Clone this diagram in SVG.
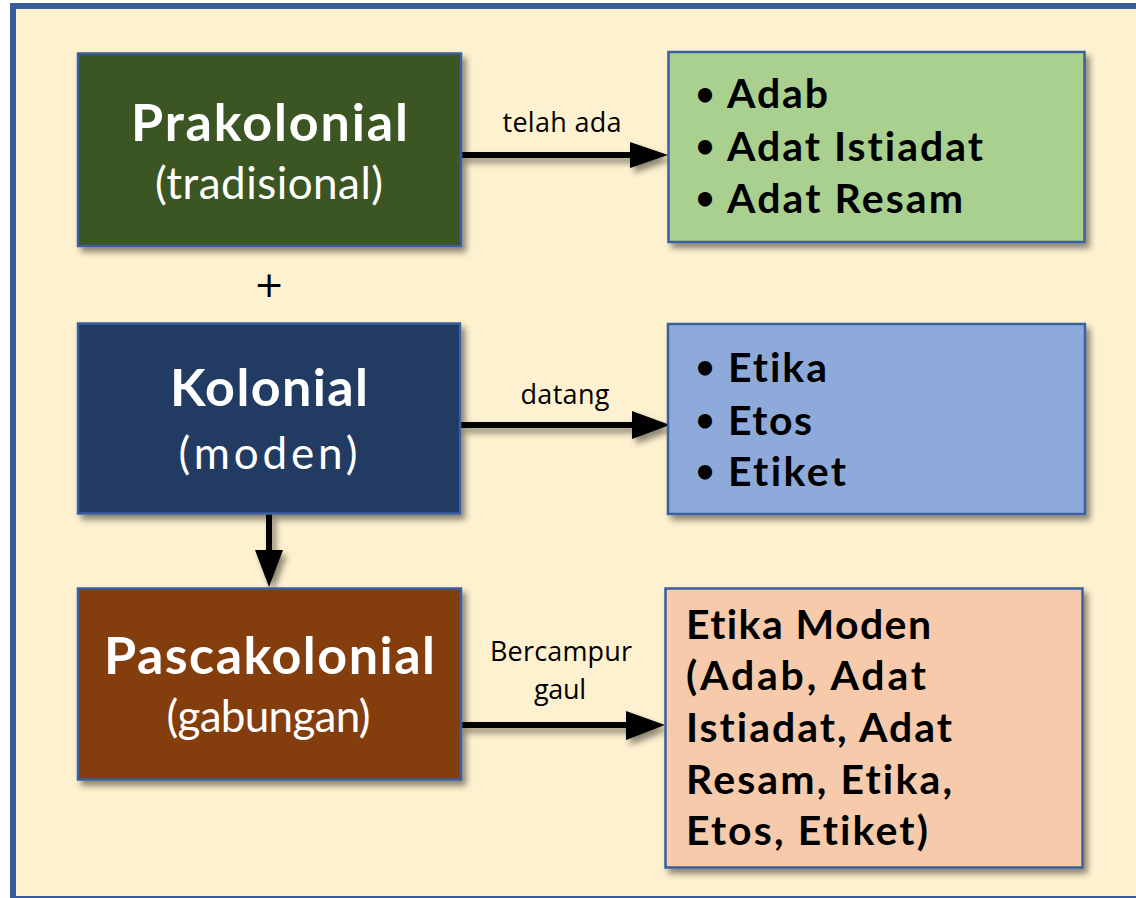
<svg xmlns="http://www.w3.org/2000/svg" width="1136" height="898" viewBox="0 0 1136 898">
<style>
text{font-variant-ligatures:none;font-feature-settings:"liga" 0,"clig" 0}
.frame{fill:#FEF1CF;stroke:#385C99;stroke-width:6}
.box{stroke:#3A5F9E;stroke-width:2.5}
.h{font-family:Lato,"Open Sans","Liberation Sans",sans-serif;font-weight:700;font-size:52px;fill:#fff;text-anchor:middle}
.s{font-family:Lato,"Open Sans","Liberation Sans",sans-serif;font-weight:400;font-size:44px;fill:#fff;text-anchor:middle}
.it{font-family:Lato,"Open Sans","Liberation Sans",sans-serif;font-weight:700;font-size:41px;fill:#000}
.bul{font-family:"DejaVu Sans",sans-serif;font-weight:700;font-size:40px;fill:#000;text-anchor:middle}
.lbl{font-family:"Open Sans","Liberation Sans",sans-serif;font-size:27px;fill:#000;text-anchor:middle}
.ln{stroke:#000;stroke-width:6;fill:none}
.hd{fill:#000}
</style>
<defs>
<filter id="sh" x="-10%" y="-10%" width="130%" height="130%">
<feDropShadow dx="4" dy="5" stdDeviation="3" flood-color="#000" flood-opacity="0.45"/>
</filter>
</defs>
<rect x="0" y="0" width="1136" height="898" fill="#fff"/>
<rect class="frame" x="13" y="6" width="1132" height="893"/>

<g id="connectors" filter="url(#sh)">
<path class="ln" d="M461 155H632"/>
<polygon class="hd" points="630,142 668,155 630,168"/>
<path class="ln" d="M461 425H634"/>
<polygon class="hd" points="632,411 670,425 632,439"/>
<path class="ln" d="M461 725H628"/>
<polygon class="hd" points="626,711 665,725 626,740"/>
<path class="ln" d="M269 514V552"/>
<polygon class="hd" points="255,550 283,550 269,587"/>
</g>
<g id="labels">
<text class="lbl" x="562" y="132" textLength="119">telah ada</text>
<text class="lbl" x="565" y="404" textLength="89">datang</text>
<text class="lbl" x="561" y="661" textLength="142">Bercampur</text>
<text class="lbl" x="560" y="699" textLength="52">gaul</text>
<text x="269" y="297" font-family="DejaVu Sans,sans-serif" font-size="36" text-anchor="middle" fill="#000">+</text>
</g>

<g id="prakolonial">
<rect class="box" x="78" y="53.5" width="383" height="192.5" fill="#3A5624" filter="url(#sh)"/>
<text class="h" x="269.5" y="141" textLength="277">Prakolonial</text>
<text class="s" x="269" y="199" textLength="228">(tradisional)</text>
</g>
<g id="adab">
<rect class="box" x="668.5" y="52" width="416" height="190" fill="#A9D08E" filter="url(#sh)"/>
<text class="bul" x="705" y="110">•</text>
<text class="bul" x="705" y="162">•</text>
<text class="bul" x="705" y="214">•</text>
<text class="it" x="727" y="108" textLength="101">Adab</text>
<text class="it" x="727" y="160.5" textLength="256">Adat Istiadat</text>
<text class="it" x="727" y="212.5" textLength="236">Adat Resam</text>
</g>
<g id="kolonial">
<rect class="box" x="78" y="323.5" width="382" height="190" fill="#213A64" filter="url(#sh)"/>
<text class="h" x="269" y="406" textLength="198">Kolonial</text>
<text class="s" x="268" y="469" font-size="47" textLength="179">(moden)</text>
</g>
<g id="etika">
<rect class="box" x="668" y="324" width="417" height="190" fill="#8EAADB" filter="url(#sh)"/>
<text class="bul" x="705" y="383">•</text>
<text class="bul" x="705" y="436">•</text>
<text class="bul" x="705" y="487">•</text>
<text class="it" x="728" y="381.5" textLength="99">Etika</text>
<text class="it" x="728" y="435" textLength="84">Etos</text>
<text class="it" x="728" y="486" textLength="118">Etiket</text>
</g>
<g id="pascakolonial">
<rect class="box" x="78" y="588.5" width="383" height="191" fill="#843C0C" filter="url(#sh)"/>
<text class="h" x="269.5" y="674" textLength="331">Pascakolonial</text>
<text class="s" x="268.5" y="731.5" textLength="204">(gabungan)</text>
</g>
<g id="etika-moden">
<rect class="box" x="665.5" y="588.5" width="417" height="279" fill="#F7CAAC" filter="url(#sh)"/>
<text class="it" x="686" y="638.5" textLength="245">Etika Moden</text>
<text class="it" x="686" y="690" textLength="240">(Adab, Adat</text>
<text class="it" x="686" y="741.5" textLength="266">Istiadat, Adat</text>
<text class="it" x="686" y="793.5" textLength="266">Resam, Etika,</text>
<text class="it" x="686" y="845" textLength="242">Etos, Etiket)</text>
</g>
</svg>
